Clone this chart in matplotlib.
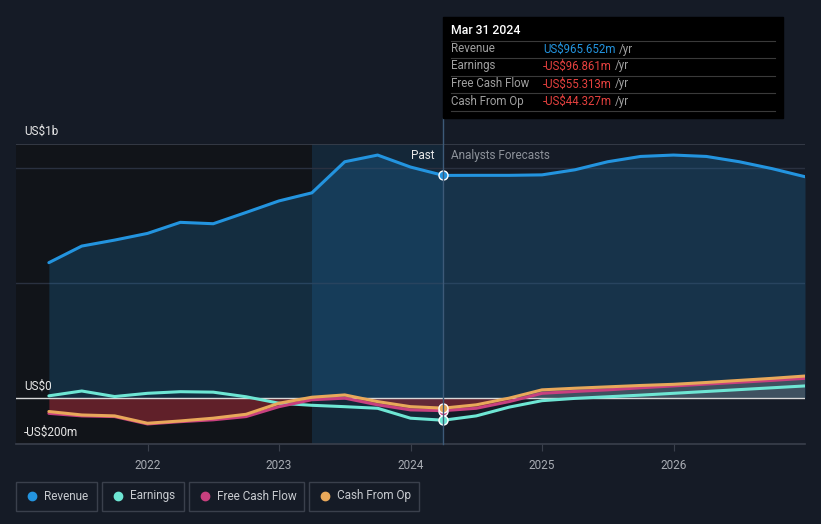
import numpy as np
import matplotlib.pyplot as plt
from matplotlib.lines import Line2D
from matplotlib.patches import Rectangle

plt.rcParams['font.family'] = ['Roboto', 'DejaVu Sans']

# -------------------------------
# Data (US$ m), time in fractional years
# -------------------------------
t_past = [2021.25, 2021.5, 2021.75, 2022.0, 2022.25, 2022.5, 2022.75,
          2023.0, 2023.25, 2023.5, 2023.75, 2024.0, 2024.25]
t_fc = [2024.25, 2024.5, 2024.75, 2025.0, 2025.25, 2025.5, 2025.75,
        2026.0, 2026.25, 2026.5, 2026.75, 2027.0]

revenue_past = [587, 659, 685, 714, 762, 756, 805, 855, 890, 1025, 1054, 1002, 965.652]
revenue_fc = [965.652, 966, 966, 968, 990, 1025, 1048, 1054, 1048, 1025, 995, 960]

earnings_past = [9, 30, 6, 20, 27, 25, 5, -23, -32, -38, -45, -88, -96.861]
earnings_fc = [-96.861, -78, -40, -12, -2, 5, 12, 20, 28, 36, 44, 52]

fcf_past = [-67, -78, -81, -113, -103, -95, -81, -38, -8, -1, -30, -52, -55.313]
fcf_fc = [-55.313, -45, -16, 20, 28, 35, 44, 52, 60, 68, 76, 85]

cfo_past = [-59, -74, -78, -110, -100, -88, -71, -23, 3, 13, -16, -38, -44.327]
cfo_fc = [-44.327, -30, -1, 35, 42, 48, 54, 59, 67, 76, 85, 95]

year_ticks = [2022, 2023, 2024, 2025, 2026]

# colours
BG = '#151b26'
PAST_BG = '#111419'
C_REV = '#2394df'
C_EARN = '#6ee6d4'
C_FCF = '#c8407f'
C_CFO = '#e8a85a'

# -------------------------------
# Figure
# -------------------------------
fig = plt.figure(figsize=(8.21, 5.24), dpi=100, facecolor=BG)
W, H = 821, 524
ax = fig.add_axes([16 / W, (H - 444) / H, (805 - 16) / W, (444 - 144) / H])
ax.set_facecolor(BG)
ax.set_xlim(2021.0, 2027.0)
ax.set_ylim(-200, 1102)

# past background + last-year highlight
ax.axvspan(2021.0, 2024.25, color=PAST_BG, zorder=0)
ax.axvspan(2023.25, 2024.25, color='#1d5a8a', alpha=0.28, zorder=1, lw=0)

# gridlines
for yv in [500, 1000]:
    ax.axhline(yv, color='#2a3140', lw=1, zorder=1)
ax.axhline(1102, color='#3a404c', lw=1.2, zorder=1)
ax.axhline(0, color='#d8d8d8', lw=1, zorder=4)

t_all = t_past + t_fc[1:]
rev_all = revenue_past + revenue_fc[1:]
fcf_all = np.array(fcf_past + fcf_fc[1:])
cfo_all = np.array(cfo_past + cfo_fc[1:])

# fills
ax.fill_between(t_all, 0, rev_all, color=C_REV, alpha=0.2, lw=0, zorder=2)
low = np.minimum(fcf_all, cfo_all)
ax.fill_between(t_all, 0, low, where=low < 0, interpolate=True,
                color='#a32a38', alpha=0.55, lw=0, zorder=2)
ax.fill_between(t_all, 0, cfo_all, where=cfo_all > 0, interpolate=True,
                color='#8a8a8a', alpha=0.35, lw=0, zorder=2)

# lines
for tp, vp, tf, vf, c in [
    (t_past, earnings_past, t_fc, earnings_fc, C_EARN),
    (t_past, fcf_past, t_fc, fcf_fc, C_FCF),
    (t_past, cfo_past, t_fc, cfo_fc, C_CFO),
    (t_past, revenue_past, t_fc, revenue_fc, C_REV),
]:
    ax.plot(tp, vp, color=c, lw=2.2, zorder=5, solid_capstyle='round',
            solid_joinstyle='round')
    ax.plot(tf, vf, color=c, lw=2.2, zorder=5, solid_capstyle='round',
            solid_joinstyle='round')

# end markers
for v, c in [(fcf_past[-1], C_FCF), (cfo_past[-1], C_CFO),
             (earnings_past[-1], C_EARN), (revenue_past[-1], C_REV)]:
    ax.plot([2024.25], [v], 'o', ms=6.5, color=c, mec='white', mew=1, zorder=7)

# x ticks
ax.set_xticks(year_ticks)
ax.set_xticklabels([str(y) for y in year_ticks], color='#a8acb3', fontsize=8.5)
ax.set_yticks([])
ax.tick_params(axis='x', length=5, color='#3a404c', pad=6)
for s in ['top', 'left', 'right']:
    ax.spines[s].set_visible(False)
ax.spines['bottom'].set_color('#3a404c')
ax.spines['bottom'].set_linewidth(1.2)

# -------------------------------
# Text in figure coords (pixels)
# -------------------------------
def ftext(x, y, s, **kw):
    return fig.text(x / W, 1 - y / H, s, va='center', **kw)

ftext(24, 131, 'US$1b', color='#e8e8e8', fontsize=8.5)
ftext(24, 386, 'US$0', color='#e8e8e8', fontsize=8.5)
ftext(24, 432, '-US$200m', color='#e8e8e8', fontsize=8.5)
ftext(434, 156, 'Past', color='#e8e8e8', fontsize=8.5, ha='right')
ftext(451, 156, 'Analysts Forecasts', color='#8d929a', fontsize=8.5)

# vertical marker line
fig.add_artist(Line2D([443 / W, 443 / W], [1 - 118 / H, 1 - 444 / H],
                      color='#3d5a78', lw=1))

# tooltip
fig.add_artist(Rectangle((443 / W, 1 - 118 / H), 340 / W, 101 / H,
                         color='black', zorder=10))
ftext(451, 31, 'Mar 31 2024', color='white', fontsize=8.8, fontweight='medium', zorder=11)
rows = [('Revenue', 'US$965.652m', C_REV),
        ('Earnings', '-US$96.861m', '#e5413f'),
        ('Free Cash Flow', '-US$55.313m', '#e5413f'),
        ('Cash From Op', '-US$44.327m', '#e5413f')]
row_y = [49, 66, 84, 101]
for yy in [41, 58, 76, 93, 111]:
    fig.add_artist(Line2D([451 / W, 775 / W], [1 - yy / H, 1 - yy / H],
                          color='#3a3a3a', lw=0.8, zorder=11))
fig.canvas.draw()
for (lab, val, c), yy in zip(rows, row_y):
    ftext(451, yy, lab, color='#a0a0a0', fontsize=8.3, zorder=11)
    t = ftext(543, yy, val, color=c, fontsize=8.3, zorder=11)
    bb = t.get_window_extent(renderer=fig.canvas.get_renderer())
    fig.text(bb.x1 / W + 3 / W, 1 - yy / H, '/yr', color='#a0a0a0', fontsize=8.3,
             va='center', zorder=11)

# legend boxes
legend = [('Revenue', C_REV, 16, 97), ('Earnings', C_EARN, 102, 184),
          ('Free Cash Flow', C_FCF, 189, 304), ('Cash From Op', C_CFO, 309, 419)]
for lab, c, x0, x1 in legend:
    fig.add_artist(Rectangle((x0 / W, 1 - 511 / H), (x1 - x0) / W, 29 / H,
                             facecolor='none', edgecolor='#3a404c', lw=1))
    fig.add_artist(Line2D([(x0 + 16) / W], [1 - 496 / H], marker='o', ms=6,
                          color=c, lw=0))
    ftext(x0 + 28, 496, lab, color='#c8cbd0', fontsize=8.5)

fig.savefig('out.png', dpi=100, facecolor=BG)
